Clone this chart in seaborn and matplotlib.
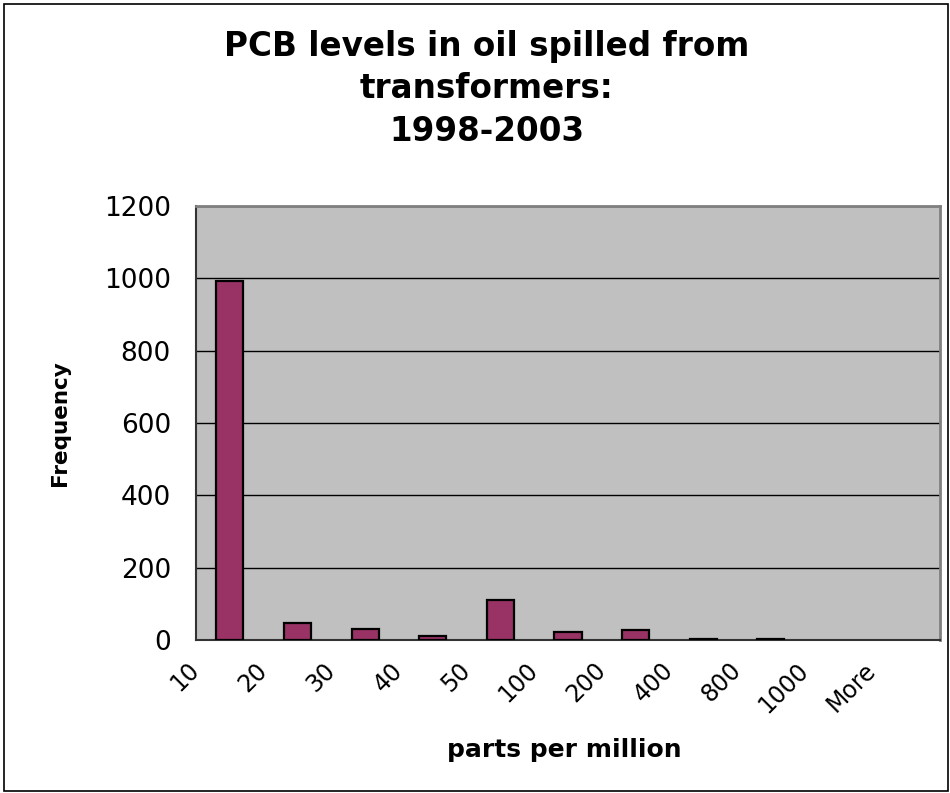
import matplotlib
matplotlib.use('Agg')
import matplotlib.pyplot as plt
import seaborn as sns
import pandas as pd
from matplotlib.patches import Rectangle

# histogram bins (ppm) and counts
bins = ['10', '20', '30', '40', '50', '100', '200', '400', '800', '1000', 'More']
counts = [993, 48, 31, 11, 110, 21, 27, 4, 4, 0, 0]

title = 'PCB levels in oil spilled from\ntransformers:\n1998-2003'

sns.set_style('white')
plt.rcParams['font.family'] = ['DejaVu Sans']
plt.rcParams['text.color'] = 'black'
plt.rcParams['axes.labelcolor'] = 'black'
plt.rcParams['xtick.color'] = 'black'
plt.rcParams['ytick.color'] = 'black'

df = pd.DataFrame({'bin': bins, 'count': counts})

fig = plt.figure(figsize=(9.5, 7.93), dpi=100)
ax = fig.add_axes([196 / 950, 1 - 640 / 793, (940 - 196) / 950, (640 - 206) / 793])
ax.set_facecolor('#C0C0C0')

sns.barplot(data=df, x='bin', y='count', order=bins, color='#993366', saturation=1,
            width=0.4, edgecolor='black', linewidth=1.6, ax=ax, zorder=3)
# empty bins: no outline on the axis
for p in ax.patches:
    if p.get_height() == 0:
        p.set_linewidth(0)

ax.set_ylim(0, 1200)
ax.set_yticks(range(0, 1201, 200))
ax.yaxis.grid(True, color='black', linewidth=1)
ax.set_axisbelow(True)

ax.set_xlim(-0.5, len(bins) - 0.5)
ax.set_xticks([i - 0.5 for i in range(len(bins))] + [len(bins) - 0.5])
ax.set_xticklabels(bins + [''], rotation=45, ha='right', va='center',
                   rotation_mode='anchor', fontsize=17)
ax.tick_params(axis='x', direction='inout', length=14, width=1, color='#333333', pad=12)
ax.tick_params(axis='y', direction='out', length=9, width=1, color='#333333',
               labelsize=19, pad=9)

for side in ['left', 'bottom']:
    ax.spines[side].set_color('#333333')
    ax.spines[side].set_linewidth(1.5)
for side in ['top', 'right']:
    ax.spines[side].set_visible(True)
    ax.spines[side].set_color('#808080')
    ax.spines[side].set_linewidth(2)

ax.set_xlabel('parts per million', fontsize=18, fontweight='bold')
ax.set_ylabel('Frequency', fontsize=15.5, fontweight='bold')
ax.xaxis.set_label_coords(0.495, -0.225)
ax.yaxis.set_label_coords(-0.17, 0.5)

fig.text(487 / 950, 1 - 89 / 793, title, ha='center', va='center', fontsize=23.5,
         fontweight='bold', linespacing=1.38)

fig.patches.append(Rectangle((0.004, 0.002), 0.994, 0.993, transform=fig.transFigure,
                             fill=False, edgecolor='black', linewidth=1.2))

fig.savefig('out.png', dpi=100)
